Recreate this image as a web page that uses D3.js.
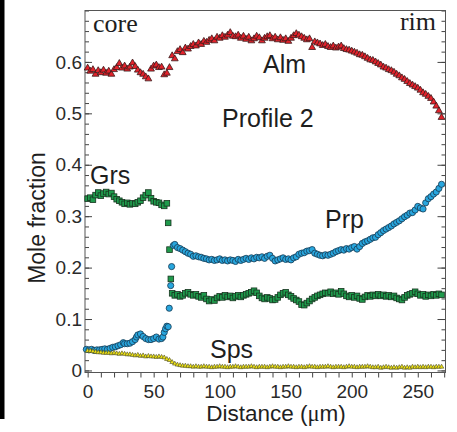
<!DOCTYPE html>
<html lang="en">
<head>
  <meta charset="UTF-8" />
  <title>Profile 2</title>
  <script src="https://d3js.org/d3.v7.min.js"></script>
  <style>
    body { margin: 0; padding: 0; background: #fff; }
    svg { display: block; font-family: "Liberation Sans", Arial, sans-serif; }
    .tick text { fill: #2a2a2a; font-size: 19px; }
    .tick line { stroke: #444; }
    .label { fill: #1e1e1e; font-size: 25px; }
    .serif { font-family: "Liberation Serif", "Times New Roman", serif; fill: #1e1e1e; }
  </style>
</head>
<body>
<script>
  // distance (um), mole fraction
  var alm = [[0,0.588],[2,0.582],[4,0.585],[6,0.576],[8,0.583],[10,0.579],[12,0.584],[14,0.578],[16,0.582],[18,0.576],
    [20,0.585],[22,0.589],[24,0.597],[26,0.588],[28,0.592],[30,0.586],[32,0.59],[34,0.598],[36,0.591],[38,0.584],
    [40,0.579],[42,0.576],[44,0.571],[46,0.567],[48,0.586],[50,0.592],[52,0.594],[54,0.589],[56,0.59],[58,0.575],
    [60,0.578],[62,0.589],[64,0.612],[66,0.606],[68,0.62],[70,0.624],[72,0.618],[74,0.627],[76,0.625],[78,0.63],
    [80,0.634],[82,0.631],[84,0.637],[86,0.634],[88,0.64],[90,0.638],[92,0.642],[94,0.645],[96,0.641],[98,0.648],
    [100,0.646],[102,0.651],[104,0.648],[106,0.652],[108,0.657],[110,0.65],[112,0.649],[114,0.652],[116,0.646],[118,0.65],
    [120,0.644],[122,0.648],[124,0.641],[126,0.645],[128,0.65],[130,0.647],[132,0.641],[134,0.646],[136,0.649],[138,0.651],
    [140,0.645],[142,0.648],[144,0.643],[146,0.647],[148,0.642],[150,0.645],[152,0.64],[154,0.646],[156,0.651],[158,0.655],
    [160,0.652],[162,0.649],[164,0.646],[166,0.643],[168,0.645],[170,0.628],[172,0.639],[174,0.637],[176,0.635],[178,0.632],
    [180,0.634],[182,0.63],[184,0.628],[186,0.631],[188,0.627],[190,0.629],[192,0.631],[194,0.626],[196,0.624],[198,0.623],
    [200,0.621],[202,0.619],[204,0.617],[206,0.614],[208,0.613],[210,0.61],[212,0.607],[214,0.604],[216,0.603],[218,0.6],
    [220,0.597],[222,0.594],[224,0.59],[226,0.588],[228,0.585],[230,0.583],[232,0.58],[234,0.576],[236,0.573],[238,0.569],
    [240,0.566],[242,0.562],[244,0.558],[246,0.555],[248,0.552],[250,0.549],[252,0.545],[254,0.54],[256,0.537],[258,0.533],
    [260,0.529],[262,0.522],[264,0.514],[266,0.505],[268,0.492]];

  var grs = [[0,0.334],[2,0.336],[4,0.332],[6,0.341],[8,0.346],[10,0.34],[12,0.344],[14,0.347],[16,0.343],[18,0.345],
    [20,0.338],[22,0.333],[24,0.33],[26,0.327],[28,0.324],[30,0.326],[32,0.323],[34,0.325],[36,0.324],[38,0.327],
    [40,0.33],[42,0.336],[44,0.341],[46,0.346],[48,0.335],[50,0.329],[52,0.327],[54,0.326],[56,0.322],[58,0.32],
    [60,0.325],[61,0.287],[62,0.235],[63,0.178],[64,0.15],[66,0.146],[68,0.148],[70,0.144],[72,0.146],[74,0.15],
    [76,0.152],[78,0.148],[80,0.146],[82,0.148],[84,0.144],[86,0.142],[88,0.146],[90,0.139],[92,0.135],[94,0.138],
    [96,0.136],[98,0.141],[100,0.144],[102,0.142],[104,0.146],[106,0.143],[108,0.145],[110,0.141],[112,0.144],[114,0.146],
    [116,0.143],[118,0.146],[120,0.148],[122,0.15],[124,0.152],[126,0.155],[128,0.151],[130,0.145],[132,0.141],[134,0.139],
    [136,0.142],[138,0.14],[140,0.137],[142,0.138],[144,0.142],[146,0.147],[148,0.15],[150,0.152],[152,0.147],[154,0.144],
    [156,0.14],[158,0.137],[160,0.134],[162,0.128],[164,0.127],[166,0.131],[168,0.135],[170,0.139],[172,0.142],[174,0.145],
    [176,0.147],[178,0.149],[180,0.151],[182,0.15],[184,0.153],[186,0.149],[188,0.151],[190,0.148],[192,0.154],[194,0.149],
    [196,0.145],[198,0.143],[200,0.146],[202,0.142],[204,0.145],[206,0.14],[208,0.138],[210,0.143],[212,0.146],[214,0.144],
    [216,0.147],[218,0.145],[220,0.148],[222,0.145],[224,0.147],[226,0.144],[228,0.146],[230,0.143],[232,0.145],[234,0.141],
    [236,0.139],[238,0.137],[240,0.142],[242,0.146],[244,0.148],[246,0.15],[248,0.153],[250,0.149],[252,0.146],[254,0.148],
    [256,0.144],[258,0.147],[260,0.145],[262,0.148],[264,0.146],[266,0.149],[268,0.147]];

  var prp = [[-1,0.041],[1,0.04],[3,0.041],[5,0.039],[7,0.04],[9,0.04],[11,0.041],[13,0.042],[15,0.041],[17,0.043],
    [19,0.045],[21,0.046],[23,0.048],[25,0.05],[27,0.054],[28,0.052],[30,0.052],[32,0.053],[34,0.056],[36,0.06],
    [37,0.065],[38,0.069],[40,0.071],[42,0.066],[44,0.062],[46,0.06],[48,0.06],[50,0.062],[52,0.065],[54,0.061],
    [56,0.062],[57,0.065],[58,0.074],[59,0.081],[60,0.086],[61,0.085],[61.8,0.121],[62.9,0.165],[63.6,0.202],[64.9,0.243],
    [66,0.245],[68,0.239],[70,0.237],[72,0.234],[74,0.231],[76,0.228],[78,0.226],[80,0.222],[82,0.223],[84,0.221],
    [86,0.22],[88,0.218],[90,0.217],[92,0.215],[94,0.216],[96,0.214],[98,0.215],[100,0.217],[102,0.214],[104,0.215],
    [106,0.213],[108,0.215],[110,0.214],[112,0.212],[114,0.216],[116,0.214],[118,0.216],[120,0.218],[122,0.216],[124,0.219],
    [126,0.217],[128,0.22],[130,0.219],[132,0.221],[134,0.218],[136,0.222],[138,0.224],[140,0.218],[142,0.213],[144,0.215],
    [146,0.217],[148,0.219],[150,0.216],[152,0.217],[154,0.215],[156,0.219],[158,0.221],[160,0.226],[162,0.228],[164,0.229],
    [166,0.232],[168,0.233],[170,0.235],[172,0.228],[174,0.226],[176,0.224],[178,0.223],[180,0.225],[182,0.224],[184,0.226],
    [186,0.228],[188,0.231],[190,0.233],[192,0.235],[194,0.234],[196,0.237],[198,0.236],[200,0.239],[202,0.241],[204,0.236],
    [206,0.241],[208,0.247],[210,0.25],[212,0.252],[214,0.255],[216,0.258],[218,0.259],[220,0.264],[222,0.268],[224,0.272],
    [226,0.275],[228,0.278],[230,0.281],[232,0.285],[234,0.288],[236,0.291],[238,0.295],[240,0.299],[242,0.302],[244,0.306],
    [246,0.307],[248,0.312],[250,0.319],[252,0.316],[254,0.314],[256,0.326],[258,0.334],[260,0.338],[262,0.343],[264,0.347],
    [266,0.354],[268,0.362]];

  var sps = [[0,0.038],[2,0.038],[4,0.037],[6,0.036],[8,0.035],[10,0.035],[12,0.034],[14,0.034],[16,0.034],[18,0.033],
    [20,0.034],[22,0.033],[24,0.032],[26,0.033],[28,0.032],[30,0.031],[32,0.031],[34,0.03],[36,0.029],[38,0.03],
    [40,0.028],[42,0.029],[44,0.027],[46,0.028],[48,0.027],[50,0.027],[52,0.026],[54,0.027],[56,0.026],[58,0.025],
    [60,0.022],[62,0.02],[64,0.016],[66,0.013],[68,0.011],[70,0.01],[72,0.009],[74,0.009],[76,0.008],[78,0.008],
    [80,0.007],[82,0.008],[84,0.007],[86,0.007],[88,0.008],[90,0.007],[92,0.007],[94,0.006],[96,0.007],[98,0.007],
    [100,0.008],[102,0.007],[104,0.007],[106,0.006],[108,0.007],[110,0.007],[112,0.008],[114,0.007],[116,0.006],[118,0.007],
    [120,0.007],[122,0.007],[124,0.008],[126,0.007],[128,0.006],[130,0.007],[132,0.007],[134,0.007],[136,0.006],[138,0.007],
    [140,0.008],[142,0.007],[144,0.007],[146,0.006],[148,0.007],[150,0.007],[152,0.008],[154,0.007],[156,0.007],[158,0.006],
    [160,0.007],[162,0.007],[164,0.006],[166,0.007],[168,0.008],[170,0.007],[172,0.007],[174,0.006],[176,0.007],[178,0.007],
    [180,0.007],[182,0.008],[184,0.007],[186,0.006],[188,0.007],[190,0.007],[192,0.007],[194,0.006],[196,0.007],[198,0.008],
    [200,0.007],[202,0.007],[204,0.006],[206,0.007],[208,0.007],[210,0.007],[212,0.008],[214,0.007],[216,0.006],[218,0.006],
    [220,0.007],[222,0.005],[224,0.006],[226,0.007],[228,0.006],[230,0.005],[232,0.006],[234,0.005],[236,0.006],[238,0.007],
    [240,0.005],[242,0.006],[244,0.005],[246,0.007],[248,0.006],[250,0.007],[252,0.006],[254,0.007],[256,0.006],[258,0.007],
    [260,0.007],[262,0.006],[264,0.007],[266,0.007],[268,0.007]];

  var xMajor = [0, 50, 100, 150, 200, 250];
  var yMajor = [0, 0.1, 0.2, 0.3, 0.4, 0.5, 0.6];
  var xMinor = d3.range(0, 271, 10);
  var yMinor = d3.range(0, 0.701, 0.02);

  var W = 457, H = 432;
  var plotL = 85, plotR = 445.5, plotT = 10.5, plotB = 372.5;

  var svg = d3.select("body").append("svg")
    .attr("width", W)
    .attr("height", H);

  svg.append("rect").attr("width", W).attr("height", H).attr("fill", "#fff");
  // black strip at the left edge
  svg.append("rect").attr("x", 0).attr("y", 0).attr("width", 4.5).attr("height", 419).attr("fill", "#000");

  var x = d3.scaleLinear().domain([-2, 271]).range([plotL, plotR]);
  var y = d3.scaleLinear().domain([-0.004, 0.7]).range([plotB, plotT]);

  // y axis, left (ticks point inward)
  svg.append("g").attr("transform", "translate(" + plotL + ",0)")
    .call(d3.axisLeft(y).tickValues(yMinor).tickSize(-4).tickFormat(""))
    .call(function (g) { g.select(".domain").remove(); });
  svg.append("g").attr("transform", "translate(" + plotL + ",0)")
    .call(d3.axisLeft(y).tickValues(yMajor).tickSize(-7).tickPadding(3)
      .tickFormat(function (d) { return d === 0 ? "0" : d3.format(".1f")(d); }))
    .call(function (g) { g.select(".domain").remove(); });

  // y axis, right
  svg.append("g").attr("transform", "translate(" + plotR + ",0)")
    .call(d3.axisRight(y).tickValues(yMinor).tickSize(-4).tickFormat(""))
    .call(function (g) { g.select(".domain").remove(); });
  svg.append("g").attr("transform", "translate(" + plotR + ",0)")
    .call(d3.axisRight(y).tickValues(yMajor).tickSize(-8).tickFormat(""))
    .call(function (g) { g.select(".domain").remove(); });

  // x axis, bottom (ticks point outward)
  svg.append("g").attr("transform", "translate(0," + plotB + ")")
    .call(d3.axisBottom(x).tickValues(xMinor).tickSize(5).tickFormat(""))
    .call(function (g) { g.select(".domain").remove(); });
  svg.append("g").attr("transform", "translate(0," + plotB + ")")
    .call(d3.axisBottom(x).tickValues(xMajor).tickSize(5).tickPadding(7))
    .call(function (g) { g.select(".domain").remove(); g.selectAll("line").remove(); });

  svg.selectAll(".tick text").attr("font-family", null).attr("font-size", null);

  // frame
  svg.append("rect")
    .attr("x", plotL).attr("y", plotT)
    .attr("width", plotR - plotL).attr("height", plotB - plotT)
    .attr("fill", "none").attr("stroke", "#555").attr("stroke-width", 1);

  // series
  var tri = d3.symbol().type(d3.symbolTriangle);

  svg.append("g").selectAll("path")
    .data(alm).enter().append("path")
    .attr("d", tri.size(20)())
    .attr("transform", function (d) { return "translate(" + x(d[0]) + "," + y(d[1]) + ")"; })
    .attr("fill", "#e3222b").attr("stroke", "#3a1a1a").attr("stroke-width", 0.8);

  svg.append("g").selectAll("rect")
    .data(grs).enter().append("rect")
    .attr("x", function (d) { return x(d[0]) - 2.8; })
    .attr("y", function (d) { return y(d[1]) - 2.8; })
    .attr("width", 5.6).attr("height", 5.6)
    .attr("fill", "#1f9a4c").attr("stroke", "#17341f").attr("stroke-width", 0.8);

  svg.append("g").selectAll("circle")
    .data(prp).enter().append("circle")
    .attr("cx", function (d) { return x(d[0]); })
    .attr("cy", function (d) { return y(d[1]); })
    .attr("r", 3.1)
    .attr("fill", "#28a6de").attr("stroke", "#163a52").attr("stroke-width", 0.8);

  svg.append("g").selectAll("path")
    .data(sps).enter().append("path")
    .attr("d", tri.size(9)())
    .attr("transform", function (d) { return "translate(" + x(d[0]) + "," + y(d[1]) + ")"; })
    .attr("fill", "#f0e414").attr("stroke", "#4a4a20").attr("stroke-width", 0.6);

  // in-plot labels
  svg.append("text").attr("class", "serif").attr("x", 93).attr("y", 32).attr("font-size", 26).text("core");
  svg.append("text").attr("class", "serif").attr("x", 436).attr("y", 30).attr("font-size", 26)
    .attr("text-anchor", "end").text("rim");
  svg.append("text").attr("class", "label").attr("x", 263).attr("y", 73).text("Alm");
  svg.append("text").attr("class", "label").attr("x", 222).attr("y", 127).text("Profile 2");
  svg.append("text").attr("class", "label").attr("x", 90).attr("y", 184).text("Grs");
  svg.append("text").attr("class", "label").attr("x", 325).attr("y", 228).text("Prp");
  svg.append("text").attr("class", "label").attr("x", 210).attr("y", 358).text("Sps");

  // axis titles
  svg.append("text")
    .attr("transform", "translate(45,218) rotate(-90)")
    .attr("text-anchor", "middle")
    .attr("font-size", 23).attr("fill", "#1e1e1e")
    .text("Mole fraction");

  var xt = svg.append("text")
    .attr("x", 276).attr("y", 421)
    .attr("text-anchor", "middle")
    .attr("font-size", 22.5).attr("fill", "#1e1e1e");
  xt.append("tspan").text("Distance (");
  xt.append("tspan").attr("font-family", "Liberation Serif, serif").text("\u03bc");
  xt.append("tspan").text("m)");
</script>
</body>
</html>
